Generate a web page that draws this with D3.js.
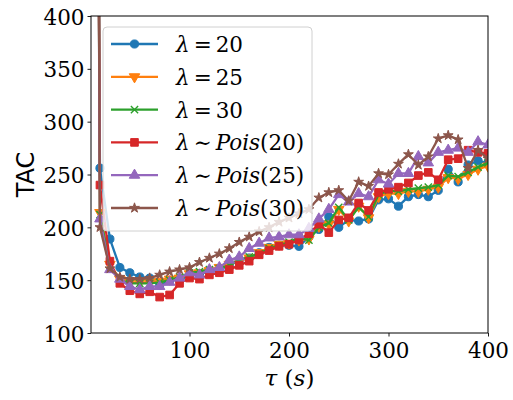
<!DOCTYPE html>
<html><head><meta charset="utf-8">
<script src="https://cdn.jsdelivr.net/npm/d3@7"></script>
<style>body{margin:0;background:#fff} svg{display:block}
.serif{font-family:"DejaVu Serif",serif;}
</style>
</head><body>
<svg id="c" width="513" height="400"></svg>
<script>
// ---------- data ----------
const tau = [1,10,20,30,40,50,60,70,80,90,100,110,120,130,140,150,160,170,180,190,200,
             210,220,230,240,250,260,270,280,290,300,310,320,330,340,350,360,370,380,390,400];
const lam20 = [2000,256,189,162,157,153,152,145,150,150,155,156,158,160,164,169,171,176,181,183,183,
               182,191,198,210,200,207,206,208,226,227,220,229,231,229,235,255,243,259,263,261];
const lam25 = [1950,214,165,151,148,148,148,149,151,152,156,157,159,162,165,168,171,176,181,184,185,
               188,189,201,203,217,206,220,209,229,232,232,234,234,236,238,247,246,250,255,258];
const lam30 = [1900,212,164,150,147,147,147,148,150,153,157,158,160,161,164,169,172,175,180,183,186,
               190,188,200,204,219,207,219,210,231,235,234,236,237,238,240,249,248,252,257,261];
const pois20 = [1800,240,168,147,140,137,139,134,136,147,152,151,155,157,160,164,168,174,178,182,184,
                188,194,203,195,207,209,223,216,233,236,238,242,249,252,245,264,265,273,271,270];
const pois25 = [1850,208,160,151,144,141,144,144,148,152,157,155,160,162,169,172,180,185,190,191,193,
                193,199,208,217,231,224,232,229,245,241,251,251,267,261,271,273,275,271,281,278];
const pois30 = [2100,200,161,153,151,151,152,155,158,160,162,167,171,175,180,186,191,196,200,205,209,
                213,217,228,233,235,225,243,239,251,250,260,269,259,267,284,287,283,256,273,265];
const seriesValues = [lam20, lam25, lam30, pois20, pois25, pois30];
const seriesNames = ["λ = 20","λ = 25","λ = 30","λ ∼ Pois(20)","λ ∼ Pois(25)","λ ∼ Pois(30)"];
const xTicks = [100,200,300,400];
const yTicks = [100,150,200,250,300,350,400];

// ---------- styles ----------
const colors = ["#1f77b4","#ff7f0e","#2ca02c","#d62728","#9467bd","#8c564b"];
const markers = ["circle","tdown","x","square","tup","star"];

const L = 91, R = 488, T = 16, B = 333;
const svg = d3.select("#c");
const x = d3.scaleLinear().domain([1,400]).range([L,R]);
const y = d3.scaleLinear().domain([100,400]).range([B,T]);

svg.append("defs").append("clipPath").attr("id","clip")
  .append("rect").attr("x",L).attr("y",T).attr("width",R-L).attr("height",B-T);

function symbolPath(kind){
  switch(kind){
    case "circle": return d3.symbol(d3.symbolCircle,52)();
    case "square": return d3.symbol(d3.symbolSquare,58)();
    case "tup": return d3.symbol(d3.symbolTriangle,48)();
    case "tdown": return d3.symbol(d3.symbolTriangle,48)();
    case "star": return d3.symbol(d3.symbolStar,30)();
    case "x": return d3.symbol(d3.symbolX,36)();
  }
}
function drawMarker(g, kind, color){
  const p = g.append("path").attr("d", symbolPath(kind));
  if(kind==="x"){
    p.attr("fill","none").attr("stroke",color).attr("stroke-width",1.4);
  } else {
    p.attr("fill",color).attr("stroke",color).attr("stroke-width",1);
  }
  if(kind==="tdown") p.attr("transform","rotate(180)");
  return p;
}

const plot = svg.append("g").attr("clip-path","url(#clip)");
const line = d3.line().x((d,i)=>x(tau[i])).y(d=>y(d));
seriesValues.forEach((vals,k)=>{
  const g = plot.append("g");
  g.append("path").attr("d", line(vals)).attr("fill","none")
    .attr("stroke",colors[k]).attr("stroke-width",2.3).attr("stroke-linejoin","round");
  vals.forEach((v,i)=>{
    const mg = g.append("g").attr("transform",`translate(${x(tau[i])},${y(v)})`);
    drawMarker(mg, markers[k], colors[k]);
  });
});

// axes
const xAxis = d3.axisBottom(x).tickValues(xTicks).tickSize(3.5).tickPadding(5).tickFormat(d3.format("d"));
const yAxis = d3.axisLeft(y).tickValues(yTicks).tickSize(3.5).tickPadding(3).tickFormat(d3.format("d"));
const gx = svg.append("g").attr("transform",`translate(0,${B})`).call(xAxis);
const gy = svg.append("g").attr("transform",`translate(${L},0)`).call(yAxis);
[gx,gy].forEach(g=>{
  g.attr("font-family",null).attr("font-size",null);
  g.select(".domain").remove();
  g.selectAll("line").attr("stroke","#000").attr("stroke-width",0.9);
  g.selectAll("text").attr("class","serif").style("font-size","22.5px").attr("fill","#000")
    .attr("textLength",41).attr("lengthAdjust","spacingAndGlyphs");
});
gx.selectAll("text").attr("dy","0.72em");
gy.selectAll("text").attr("dy","0.36em");
// frame
svg.append("rect").attr("x",L).attr("y",T).attr("width",R-L).attr("height",B-T)
  .attr("fill","none").attr("stroke","#000").attr("stroke-width",1);

// axis labels
svg.append("text").attr("transform",`translate(34,${(T+B)/2}) rotate(-90)`)
  .attr("text-anchor","middle").style("font-family","'DejaVu Sans',sans-serif")
  .style("font-size","24px").text("TAC");
const xl = svg.append("text").attr("x",(L+R)/2).attr("y",386).attr("text-anchor","middle")
  .attr("class","serif").style("font-size","23px");
xl.append("tspan").attr("font-style","italic").text("τ");
xl.append("tspan").text(" (");
xl.append("tspan").attr("font-style","italic").text("s");
xl.append("tspan").text(")");

// legend
const lg = svg.append("g");
lg.append("rect").attr("x",103).attr("y",27).attr("width",209).attr("height",204).attr("rx",4)
  .attr("fill","#fff").attr("fill-opacity",0.8).attr("stroke","#d0d0d0").attr("stroke-width",1);
seriesNames.forEach((name,k)=>{
  const cy = 44 + k*32.8;
  lg.append("line").attr("x1",111).attr("x2",158).attr("y1",cy).attr("y2",cy)
    .attr("stroke",colors[k]).attr("stroke-width",2.3);
  const mg = lg.append("g").attr("transform",`translate(134.5,${cy})`);
  drawMarker(mg, markers[k], colors[k]);
  const m = name.match(/^λ (=|∼) (Pois)?(\(?\d+\)?)$/);
  const t = lg.append("text").attr("x",176).attr("y",cy+8)
    .attr("class","serif").style("font-size","21.5px");
  t.append("tspan").attr("font-style","italic").text("λ");
  t.append("tspan").attr("dx",4).text(m[1]);
  if(m[2]) t.append("tspan").attr("dx",4).attr("font-style","italic").text(m[2]);
  t.append("tspan").attr("dx", m[2] ? 0 : 4).text(m[3]);
});
</script>
</body></html>
